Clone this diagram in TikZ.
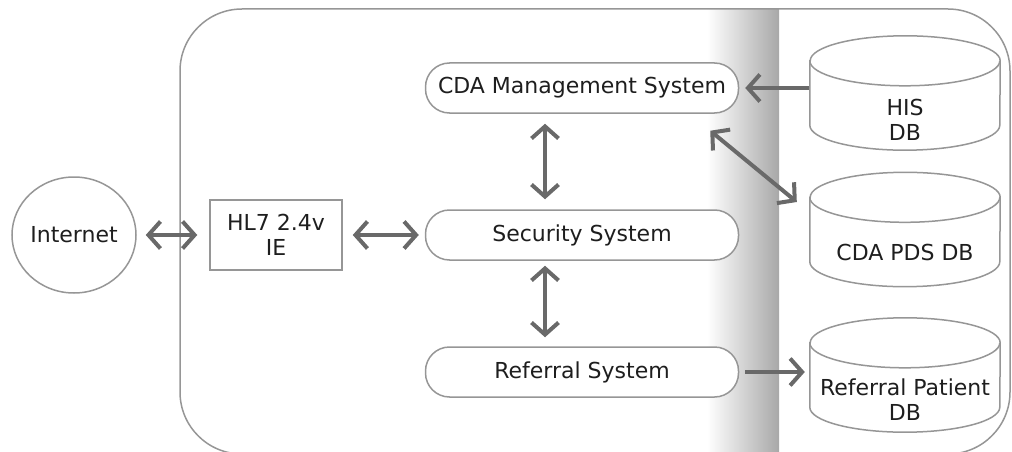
\documentclass[tikz,border=0pt]{standalone}
\usepackage{fontspec}
\setmainfont{DejaVu Sans}
\usetikzlibrary{arrows.meta,shapes.geometric,calc}
\definecolor{myArrowGray}{RGB}{105,105,105}
\definecolor{myLineGray}{RGB}{150,150,150}
\definecolor{myBandGray}{RGB}{168,168,168}
\definecolor{myText}{RGB}{30,30,30}

\begin{document}
\begin{tikzpicture}[x=1pt,y=-1pt,
	every node/.style={font=\fontsize{22}{25}\selectfont, text=myText},
	sys/.style={draw=myLineGray, line width=1.5pt, fill=white, rectangle, rounded corners=24pt, minimum width=313pt, minimum height=50pt, inner sep=0pt},
	db/.style={rectangle, minimum width=190pt, minimum height=114pt, inner sep=0pt},
	dbline/.style={draw=myLineGray, line width=1.5pt, fill=white},
	link/.style={draw=myArrowGray, line width=4pt, arrows={Straight Barb[length=12pt,width=27pt]-Straight Barb[length=12pt,width=27pt]}},
	feed/.style={draw=myArrowGray, line width=4pt, arrows={-Straight Barb[length=12pt,width=27pt]}}]
			\clip (0,0) rectangle (1012,452);
			\shade[left color=white, right color=myBandGray] (707,10) rectangle (779,452);
			\draw[myLineGray, line width=1.5pt, rounded corners=62pt] (180,9) rectangle (1010,454);

			\draw (74,235) node[draw=myLineGray, line width=1.5pt, ellipse, minimum width=124pt, minimum height=116pt, inner sep=0pt] (inet) {Internet};
			\draw (276,235) node[draw=myLineGray, line width=1.5pt, rectangle, minimum width=132pt, minimum height=70pt, inner sep=0pt, align=center] (hl7) {HL7 2.4v\\IE};
			\draw (582,88) node[sys] (cda) {CDA Management System};
			\draw (582,235) node[sys] (sec) {Security System};
			\draw (582,372) node[sys] (ref) {Referral System};
			\draw (905,93) node[db] (his) {};
			\draw (905,229.5) node[db] (pds) {};
			\draw (905,375) node[db] (rpdb) {};

			% database cylinders
			\foreach \n in {his,pds,rpdb}{
				\draw[dbline] ([yshift=-25pt]\n.north west) -- ([yshift=25pt]\n.south west)
					arc[start angle=180, end angle=360, x radius=95pt, y radius=25pt]
					-- ([yshift=-25pt]\n.north east)
					arc[start angle=0, end angle=180, x radius=95pt, y radius=25pt] -- cycle;
				\draw[dbline, fill=none] ([yshift=-25pt]\n.north west)
					arc[start angle=180, end angle=360, x radius=95pt, y radius=25pt];
			}

			\draw ($(his.center)+(0,27)$) node[align=center] (his-t) {HIS\\DB};
			\draw ($(pds.center)+(0,22.5)$) node (pds-t) {CDA PDS DB};
			\draw ($(rpdb.center)+(0,25)$) node[align=center] (rpdb-t) {Referral Patient\\DB};

			\path
			(inet) edge[link, shorten <=9pt, shorten >=12pt] (hl7)
			(hl7) edge[link, shorten <=10pt, shorten >=6pt] (sec)
			([xshift=-37pt]cda.south) edge[link, shorten <=10pt, shorten >=10pt] ([xshift=-37pt]sec.north)
			([xshift=-37pt]sec.south) edge[link, shorten <=5pt, shorten >=9pt] ([xshift=-37pt]ref.north)
			([xshift=-29pt,yshift=-17pt]cda.south east) edge[link] ([xshift=-13pt,yshift=27.5pt]pds.west)
			(his.west |- cda.east) edge[feed, shorten <=1pt, shorten >=6pt] (cda.east)
			(ref.east) edge[feed, shorten <=6pt, shorten >=5pt] (rpdb.west |- ref.east)
			;
		\end{tikzpicture}
\end{document}
